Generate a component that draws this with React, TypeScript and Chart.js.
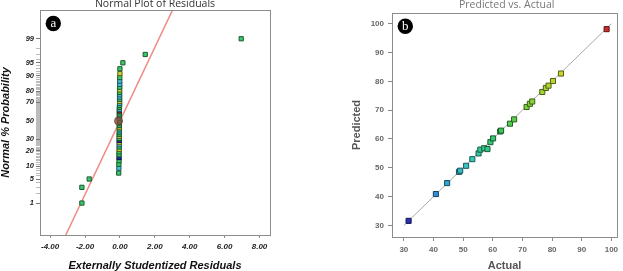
import { useEffect, useRef } from "react";
import { Chart, registerables } from "chart.js";
Chart.register(...registerables);

// ---- Panel (a): Normal plot of residuals ----
const residuals = [
  -2.18, -2.18, -1.76,
  -0.07, -0.06, -0.06, -0.05, -0.05, -0.05, -0.05,
  -0.04, -0.04, -0.04, -0.04, -0.04, -0.04, -0.04, -0.04,
  -0.03, -0.03, -0.03, -0.03, -0.03, -0.03, -0.03, -0.03, -0.03, -0.03, -0.03, -0.03, -0.03, -0.03, -0.03,
  -0.02, -0.02, -0.02, -0.02, -0.02, -0.02, -0.02, -0.02,
  -0.01, -0.01, -0.01, -0.01,
  0.0, 0.0,
  0.17, 1.45, 6.95,
];
const residualColorKeys = [
  "G", "G", "G",
  "G", "C", "G", "G", "B", "G", "G", "Y", "G", "C", "Y", "B", "G", "Y", "G", "G", "C", "G", "Y", "G", "G", "G",
  "G", "G", "C", "G", "G", "D", "C", "G", "G", "C", "Y", "G", "C", "C", "G", "Y", "G", "C", "C", "G", "Y", "G",
  "G", "G", "G",
];
const residualTickLabels = ["-4.00", "-2.00", "0.00", "2.00", "4.00", "6.00", "8.00"];
const residualTickValues = [-4, -2, 0, 2, 4, 6, 8];
const probLabelled = [1, 5, 10, 20, 30, 50, 70, 80, 90, 95, 99];
const probMinor = Array.from({ length: 99 }, (_, i) => i + 1);
const fitLineResidual = [-3.4, 3.4];
const fitLineZ = [-3.54, 3.54];
const centerMarker = { x: -0.08, p: 50 };

// ---- Panel (b): Predicted vs. Actual ----
const actual = [31.6, 40.8, 44.6, 48.6, 49.0, 51.0, 53.1, 55.2, 55.8, 57.1, 58.2, 59.2, 60.1, 62.5, 62.8, 65.8, 67.2, 71.4, 72.5, 73.3, 76.7, 77.9, 78.8, 80.3, 83.0, 98.4];
const predicted = [31.6, 40.9, 44.7, 48.6, 49.0, 50.7, 53.0, 55.0, 56.3, 56.8, 56.5, 58.9, 60.2, 62.6, 62.9, 65.3, 66.8, 71.1, 72.2, 73.0, 76.3, 77.7, 78.5, 80.1, 82.7, 98.1];
const pvaTicks = [30, 40, 50, 60, 70, 80, 90, 100];
const diagonal = [30, 100];

// ---- helpers ----
function probit(p: number): number {
  const a = [-3.969683028665376e1, 2.209460984245205e2, -2.759285104469687e2, 1.38357751867269e2, -3.066479806614716e1, 2.506628277459239];
  const b = [-5.447609879822406e1, 1.615858368580409e2, -1.556989798598866e2, 6.680131188771972e1, -1.328068155288572e1];
  const c = [-7.784894002430293e-3, -3.223964580411365e-1, -2.400758277161838, -2.549732539343734, 4.374664141464968, 2.938163982698783];
  const d = [7.784695709041462e-3, 3.224671290700398e-1, 2.445134137142996, 3.754408661907416];
  const pl = 0.02425;
  if (p < pl) {
    const q = Math.sqrt(-2 * Math.log(p));
    return (((((c[0] * q + c[1]) * q + c[2]) * q + c[3]) * q + c[4]) * q + c[5]) / ((((d[0] * q + d[1]) * q + d[2]) * q + d[3]) * q + 1);
  }
  if (p > 1 - pl) {
    const q = Math.sqrt(-2 * Math.log(1 - p));
    return -(((((c[0] * q + c[1]) * q + c[2]) * q + c[3]) * q + c[4]) * q + c[5]) / ((((d[0] * q + d[1]) * q + d[2]) * q + d[3]) * q + 1);
  }
  const q = p - 0.5;
  const r = q * q;
  return ((((((a[0] * r + a[1]) * r + a[2]) * r + a[3]) * r + a[4]) * r + a[5]) * q) / (((((b[0] * r + b[1]) * r + b[2]) * r + b[3]) * r + b[4]) * r + 1);
}

const keyColors: Record<string, [number, number, number]> = {
  G: [60, 200, 105],
  C: [70, 192, 214],
  Y: [200, 208, 55],
  B: [30, 45, 160],
  D: [110, 60, 48],
};
const stops: [number, [number, number, number]][] = [
  [0, [40, 50, 180]],
  [0.15, [50, 150, 215]],
  [0.3, [55, 200, 195]],
  [0.45, [50, 200, 95]],
  [0.65, [150, 212, 50]],
  [0.8, [212, 212, 45]],
  [1, [205, 45, 45]],
];
function colormap(t: number): [number, number, number] {
  t = Math.max(0, Math.min(1, t));
  for (let i = 1; i < stops.length; i++) {
    if (t <= stops[i][0]) {
      const [t0, c0] = stops[i - 1];
      const [t1, c1] = stops[i];
      const f = (t - t0) / (t1 - t0);
      return [0, 1, 2].map((k) => Math.round(c0[k] + (c1[k] - c0[k]) * f)) as [number, number, number];
    }
  }
  return stops[stops.length - 1][1];
}
const rgb = (c: number[]) => `rgb(${c[0]},${c[1]},${c[2]})`;
const dark = (c: number[]) => `rgb(${Math.round(c[0] * 0.45)},${Math.round(c[1] * 0.45)},${Math.round(c[2] * 0.45)})`;

function decorPlugin(title: string, tx: number, ty: number, tcolor: string, badge: string, bx: number, by: number) {
  return {
    id: "decor",
    afterDraw(chart: any) {
      const { ctx, chartArea: a } = chart;
      ctx.save();
      ctx.strokeStyle = "#8c8c8c";
      ctx.lineWidth = 1;
      ctx.strokeRect(Math.round(a.left) + 0.5, Math.round(a.top) + 0.5, Math.round(a.right - a.left), Math.round(a.bottom - a.top));
      ctx.fillStyle = tcolor;
      ctx.font = '10.5px "Open Sans"';
      ctx.textAlign = "center";
      ctx.textBaseline = "alphabetic";
      ctx.fillText(title, tx, ty);
      ctx.beginPath();
      ctx.arc(bx, by, 7.7, 0, Math.PI * 2);
      ctx.fillStyle = "#000";
      ctx.fill();
      ctx.fillStyle = "#fff";
      ctx.font = '13px "Liberation Serif"';
      ctx.textBaseline = "middle";
      ctx.fillText(badge, bx, by + 0.5);
      ctx.restore();
    },
  };
}

export default function App() {
  const refA = useRef<HTMLCanvasElement>(null);
  const refB = useRef<HTMLCanvasElement>(null);

  useEffect(() => {
    document.body.style.margin = "0";
    document.body.style.background = "#fff";
    const n = residuals.length;
    const resPoints = residuals.map((r, i) => ({ x: r, y: probit((i + 0.5) / n) }));
    const resFill = residualColorKeys.map((k) => rgb(keyColors[k]));
    const resBorder = residualColorKeys.map((k) => dark(keyColors[k]));

    const chartA = new Chart(refA.current!, {
      type: "scatter",
      data: {
        datasets: [
          {
            data: resPoints,
            pointStyle: "rect",
            pointRadius: 3,
            pointBackgroundColor: resFill,
            pointBorderColor: resBorder,
            pointBorderWidth: 1,
            order: 1,
          },
          {
            data: [{ x: centerMarker.x, y: probit(centerMarker.p / 100) }],
            pointStyle: "circle",
            pointRadius: 4,
            pointBackgroundColor: "rgba(140,75,55,0.75)",
            pointBorderColor: "rgba(90,60,50,0.8)",
            pointBorderWidth: 1,
            order: 0,
          },
          {
            data: fitLineResidual.map((x, i) => ({ x, y: fitLineZ[i] })),
            showLine: true,
            borderColor: "#f08a84",
            borderWidth: 1.5,
            pointRadius: 0,
            order: 2,
          },
        ],
      },
      options: {
        responsive: false,
        devicePixelRatio: 1,
        animation: false,
        layout: { padding: { left: 0, right: 30, top: 10, bottom: 0 } },
        plugins: { legend: { display: false }, tooltip: { enabled: false } },
        scales: {
          x: {
            type: "linear",
            min: -4.58,
            max: 8.6,
            afterBuildTicks: (s: any) => {
              s.ticks = residualTickValues.map((v) => ({ value: v }));
            },
            afterFit: (s: any) => {
              s.height = 36;
            },
            border: { display: false },
            grid: { drawOnChartArea: false, drawTicks: true, tickLength: 3, color: "#888" },
            ticks: {
              autoSkip: false,
              maxRotation: 0,
              padding: 4,
              color: "#222",
              font: { family: "Liberation Sans", size: 8, weight: "bold", style: "italic" },
              callback: (_v: any, i: number) => residualTickLabels[i],
            },
            title: {
              display: true,
              text: "Externally Studentized Residuals",
              color: "#111",
              padding: 0,
              font: { family: "Liberation Sans", size: 11, weight: "bold", style: "italic", lineHeight: 1 },
            },
          },
          y: {
            type: "linear",
            min: -3.23,
            max: 3.14,
            afterBuildTicks: (s: any) => {
              s.ticks = probMinor.map((p) => ({ value: probit(p / 100) }));
            },
            afterFit: (s: any) => {
              s.width = 40;
            },
            border: { display: false },
            grid: {
              drawOnChartArea: false,
              drawTicks: true,
              tickLength: 4,
              tickColor: (ctx: any) => (probLabelled.includes(probMinor[ctx.index]) ? "#777" : "#bbb"),
            },
            ticks: {
              autoSkip: false,
              padding: 2,
              color: "#222",
              font: { family: "Liberation Sans", size: 7.5, weight: "bold", style: "italic" },
              callback: (_v: any, i: number) => (probLabelled.includes(probMinor[i]) ? String(probMinor[i]) : ""),
            },
            title: {
              display: true,
              text: "Normal % Probability",
              color: "#111",
              padding: 0,
              font: { family: "Liberation Sans", size: 11, weight: "bold", style: "italic", lineHeight: 1 },
            },
          },
        },
      },
      plugins: [decorPlugin("Normal Plot of Residuals", 155, 6.5, "#333", "a", 53.3, 23.5)],
    } as any);

    const lo = Math.min(...actual);
    const hi = Math.max(...actual);
    const pvaCols = actual.map((v) => colormap((v - lo) / (hi - lo)));

    const chartB = new Chart(refB.current!, {
      type: "scatter",
      data: {
        datasets: [
          {
            data: actual.map((x, i) => ({ x, y: predicted[i] })),
            pointStyle: "rect",
            pointRadius: 3.6,
            pointBackgroundColor: pvaCols.map(rgb),
            pointBorderColor: pvaCols.map(dark),
            pointBorderWidth: 1,
            order: 1,
          },
          {
            data: diagonal.map((v) => ({ x: v, y: v })),
            showLine: true,
            borderColor: "#a8a8a8",
            borderWidth: 1,
            pointRadius: 0,
            order: 2,
          },
        ],
      },
      options: {
        responsive: false,
        devicePixelRatio: 1,
        animation: false,
        layout: { padding: { left: 41, right: 6, top: 13, bottom: 0 } },
        plugins: { legend: { display: false }, tooltip: { enabled: false } },
        scales: {
          x: {
            type: "linear",
            min: 26,
            max: 101.9,
            afterBuildTicks: (s: any) => {
              s.ticks = pvaTicks.map((v) => ({ value: v }));
            },
            afterFit: (s: any) => {
              s.height = 34;
            },
            border: { display: false },
            grid: { drawOnChartArea: false, drawTicks: true, tickLength: 4, color: "#888" },
            ticks: {
              autoSkip: false,
              maxRotation: 0,
              padding: 4,
              color: "#666",
              font: { family: "Liberation Sans", size: 8, weight: "bold" },
              callback: (v: any) => String(v),
            },
            title: {
              display: true,
              text: "Actual",
              color: "#555",
              padding: 0,
              font: { family: "Liberation Sans", size: 11, weight: "bold", lineHeight: 1 },
            },
          },
          y: {
            type: "linear",
            min: 26,
            max: 103.7,
            afterBuildTicks: (s: any) => {
              s.ticks = pvaTicks.map((v) => ({ value: v }));
            },
            afterFit: (s: any) => {
              s.width = 41;
            },
            border: { display: false },
            grid: { drawOnChartArea: false, drawTicks: true, tickLength: 4, color: "#888" },
            ticks: {
              autoSkip: false,
              padding: 4,
              color: "#666",
              font: { family: "Liberation Sans", size: 8, weight: "bold" },
              callback: (v: any) => String(v),
            },
            title: {
              display: true,
              text: "Predicted",
              color: "#555",
              padding: 0,
              font: { family: "Liberation Sans", size: 11, weight: "bold", lineHeight: 1 },
            },
          },
        },
      },
      plugins: [decorPlugin("Predicted vs. Actual", 196.7, 8, "#777", "b", 95.3, 26.3)],
    } as any);

    return () => {
      chartA.destroy();
      chartB.destroy();
    };
  }, []);

  return (
    <div style={{ position: "relative", width: 623, height: 271, overflow: "hidden", background: "#fff" }}>
      <canvas ref={refA} width={300} height={271} style={{ position: "absolute", left: 0, top: 0 }} />
      <canvas ref={refB} width={313} height={271} style={{ position: "absolute", left: 310, top: 0 }} />
    </div>
  );
}
